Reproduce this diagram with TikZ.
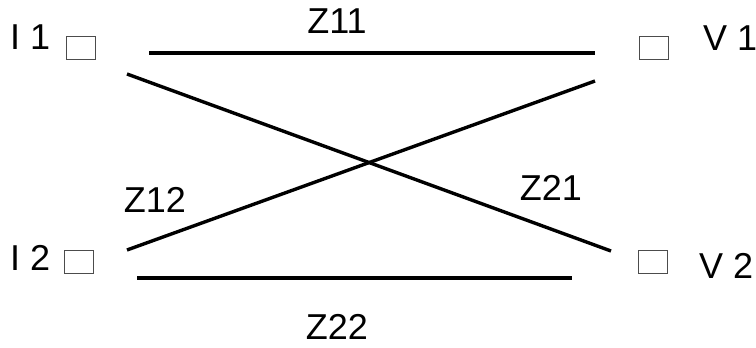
\documentclass[tikz,border=0pt]{standalone}
\usepackage{fontspec}
\setmainfont{Liberation Sans}
\usetikzlibrary{positioning}

\begin{document}
\begin{tikzpicture}[x=1pt,y=-1pt,
    port/.style={draw=black!70, line width=0.9pt, minimum width=29pt, minimum height=23pt, inner sep=0pt},
    wire/.style={line width=3.4pt},
    lbl/.style={inner sep=0pt, font=\fontsize{36}{40}\selectfont}]
        \useasboundingbox (0,0) rectangle (756,348);
        \node[port] (i1) at (80.5,47.5) {};
        \node[port] (v1) at (653.5,47.5) {};
        \node[port] (i2) at (79,261.5) {};
        \node[port] (v2) at (652.5,262) {};
        \node[lbl, anchor=base west] (ti1) at (10,49) {I 1};
        \node[lbl, anchor=base west] (tv1) at (703,50) {V 1};
        \node[lbl, anchor=base west] (ti2) at (10,270) {I 2};
        \node[lbl, anchor=base west] (tv2) at (699,278) {V 2};
        \coordinate (a1) at (149,53);
        \coordinate (b1) at (595,53);
        \coordinate (a2) at (127,74);
        \coordinate (b2) at (611,251);
        \coordinate (a3) at (127,250);
        \coordinate (b3) at (595,81);
        \coordinate (a4) at (137,278);
        \coordinate (b4) at (572,278);
        \draw[wire] (a1) -- (b1);
        \draw[wire] (a2) -- (b2);
        \draw[wire] (a3) -- (b3);
        \draw[wire] (a4) -- (b4);
        \node[lbl, anchor=base] (z11) at (337,33) {Z11};
        \node[lbl, anchor=base] (z12) at (155,212) {Z12};
        \node[lbl, anchor=base] (z21) at (551,200) {Z21};
        \node[lbl, anchor=base] (z22) at (337,339) {Z22};
    \end{tikzpicture}
\end{document}
